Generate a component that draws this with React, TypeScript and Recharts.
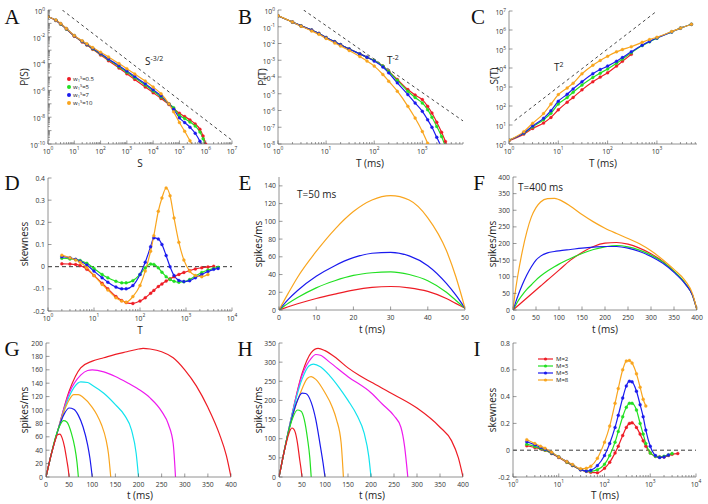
import React from 'react';
import { LineChart, Line, XAxis, YAxis, ReferenceLine } from 'recharts';

const RED = '#ee1c25';
const GREEN = '#22e022';
const BLUE = '#1a1aee';
const ORANGE = '#f9a51e';
const CYAN = '#12e3ee';
const MAGENTA = '#ee1aee';
const FONT = '"Open Sans", "DejaVu Sans", sans-serif';

// ---- A: P(S), log10 values
const aLogS = [0, 0.3, 0.48, 0.7, 1, 1.3, 1.48, 1.7, 2, 2.3, 2.7, 3, 3.3, 3.7, 4, 4.3, 4.6, 4.78, 5, 5.2, 5.4, 5.6, 5.78, 5.9, 6];
const aRedLogP = [-0.5, -0.78, -1.05, -1.42, -1.95, -2.38, -2.62, -2.93, -3.35, -3.78, -4.33, -4.76, -5.18, -5.74, -6.17, -6.6, -7.05, -7.35, -7.7, -7.95, -8.2, -8.5, -8.9, -9.4, -10];
const aGreenLogP = [-0.5, -0.77, -1.04, -1.41, -1.93, -2.35, -2.59, -2.89, -3.29, -3.7, -4.23, -4.64, -5.06, -5.6, -6.05, -6.5, -7.0, -7.3, -7.85, -8.1, -8.35, -8.65, -9.1, -9.6, -10.3];
const aBlueLogP = [-0.5, -0.76, -1.03, -1.4, -1.92, -2.33, -2.57, -2.86, -3.25, -3.65, -4.16, -4.56, -4.97, -5.5, -5.95, -6.4, -7.0, -7.4, -8.05, -8.4, -8.75, -9.2, -9.8, -10.3];
const aOrangeLogP = [-0.5, -0.75, -1.0, -1.38, -1.9, -2.3, -2.52, -2.8, -3.15, -3.5, -4.0, -4.38, -4.78, -5.3, -5.75, -6.25, -7.0, -7.6, -8.4, -9.05, -9.75, -10.45];
const aSlopeS = [3.5, 1e7];
const aSlopeP = [1, 1.9e-10];

// ---- B: P(T)
const bLogT = [0, 0.3, 0.48, 0.7, 0.85, 1, 1.18, 1.3, 1.48, 1.7, 1.85, 2, 2.18, 2.3, 2.48, 2.7, 2.85, 3, 3.11, 3.2, 3.3, 3.4, 3.48, 3.54];
const bRedLogP = [-0.35, -0.72, -0.95, -1.2, -1.4, -1.65, -1.9, -2.07, -2.33, -2.62, -2.82, -3.02, -3.35, -3.65, -4.15, -4.75, -5.08, -5.35, -5.75, -6.15, -6.7, -7.3, -7.85, -8.4];
const bGreenLogP = [-0.35, -0.72, -0.95, -1.2, -1.4, -1.65, -1.9, -2.07, -2.33, -2.62, -2.82, -3.02, -3.35, -3.67, -4.2, -4.85, -5.22, -5.55, -5.95, -6.4, -6.95, -7.55, -8.15];
const bBlueLogP = [-0.35, -0.72, -0.95, -1.2, -1.4, -1.65, -1.9, -2.07, -2.33, -2.62, -2.82, -3.04, -3.4, -3.75, -4.35, -5.05, -5.55, -6.05, -6.55, -7.0, -7.6, -8.2];
const bOrangeLogP = [-0.35, -0.72, -0.97, -1.25, -1.45, -1.7, -1.97, -2.15, -2.42, -2.78, -3.05, -3.35, -3.85, -4.25, -4.85, -5.75, -6.45, -7.25, -7.95, -8.5];
const bSlopeT = [3.4, 7000];
const bSlopeP = [1, 2.4e-7];

// ---- C: S(T)
const cLogT = [0, 0.3, 0.48, 0.7, 0.85, 1, 1.18, 1.3, 1.48, 1.7, 1.85, 2, 2.18, 2.3, 2.48, 2.7, 2.85, 3, 3.3, 3.48, 3.7];
const cRedLogS = [0.18, 0.52, 0.82, 1.1, 1.4, 1.8, 2.2, 2.45, 2.85, 3.28, 3.52, 3.75, 4.1, 4.35, 4.72];
const cGreenLogS = [0.2, 0.56, 0.9, 1.28, 1.62, 2.1, 2.45, 2.72, 3.1, 3.5, 3.73, 3.95, 4.25, 4.47, 4.8, 5.18, 5.38, 5.57, 5.9, 6.1, 6.3];
const cBlueLogS = [0.2, 0.58, 0.95, 1.35, 1.75, 2.25, 2.62, 2.9, 3.28, 3.7, 3.92, 4.1, 4.35, 4.55, 4.85, 5.2, 5.4, 5.58, 5.9, 6.1, 6.3];
const cOrangeLogS = [0.2, 0.65, 1.09, 1.6, 2.1, 2.6, 2.95, 3.2, 3.7, 4.15, 4.4, 4.62, 4.85, 4.97, 5.12, 5.35, 5.5, 5.62, 5.92, 6.1, 6.3];
const cSlopeT = [1.3, 1000];
const cSlopeS = [17, 1e7];

// ---- D: skewness vs T
const dT = [2, 3, 4, 5, 7, 10, 15, 20, 30, 40, 50, 70, 100, 130, 170, 200, 250, 300, 370, 450, 550, 700, 900, 1200, 1600, 2200, 3000, 4000, 5000];
const dRed = [0.013, 0.012, 0.01, 0.005, -0.012, -0.04, -0.075, -0.1, -0.135, -0.153, -0.162, -0.166, -0.155, -0.14, -0.12, -0.107, -0.09, -0.078, -0.065, -0.055, -0.045, -0.035, -0.026, -0.018, -0.01, -0.005, -0.001, 0.002];
const dGreen = [0.038, 0.035, 0.032, 0.028, 0.015, -0.008, -0.035, -0.05, -0.066, -0.073, -0.073, -0.063, -0.035, -0.005, 0.012, 0.01, -0.005, -0.025, -0.045, -0.058, -0.066, -0.07, -0.068, -0.058, -0.042, -0.026, -0.015, -0.008, -0.003];
const dBlue = [0.045, 0.04, 0.033, 0.025, 0.008, -0.02, -0.05, -0.07, -0.092, -0.1, -0.1, -0.085, -0.035, 0.02, 0.09, 0.13, 0.125, 0.1, 0.05, 0.0, -0.04, -0.062, -0.067, -0.063, -0.05, -0.035, -0.022, -0.012, -0.008];
const dOrange = [0.052, 0.04, 0.03, 0.02, -0.005, -0.04, -0.08, -0.105, -0.14, -0.155, -0.16, -0.135, -0.085, -0.02, 0.07, 0.14, 0.25, 0.31, 0.355, 0.32, 0.22, 0.11, 0.03, -0.02, -0.04, -0.045, -0.035];

// ---- E: T = 50 ms
const eT = [0, 2.5, 5, 10, 15, 20, 25, 30, 35, 40, 45, 47.5, 50];
const eRed = [0, 3.7, 7, 13, 18, 22.5, 25.5, 26.5, 25, 21, 13, 7.5, 2];
const eGreen = [0, 7.5, 14, 25, 33, 39, 42, 43, 40, 33, 20, 11, 2];
const eBlue = [0, 12, 22, 38, 50, 59, 64, 65, 61, 50, 30, 17, 2];
const eOrange = [0, 19, 37, 66, 91, 111, 124, 129, 124, 104, 67, 38, 2];

// ---- F: T = 400 ms
const fT = [0, 5, 10, 20, 30, 40, 50, 60, 75, 90, 100, 125, 150, 175, 200, 225, 250, 275, 300, 325, 350, 375, 390, 400];
const fRed = [0, 6, 12, 24, 36, 48, 60, 72, 90, 108, 120, 150, 173, 191, 201, 203, 198, 186, 169, 147, 116, 79, 45, 0];
const fGreen = [0, 12, 25, 45, 62, 76, 90, 102, 117, 130, 138, 155, 170, 182, 190, 194, 190, 180, 165, 145, 116, 79, 45, 0];
const fBlue = [0, 20, 40, 75, 105, 130, 150, 162, 172, 176, 178, 182, 186, 189, 191, 191, 186, 176, 161, 141, 113, 77, 45, 0];
const fOrange = [0, 55, 100, 175, 235, 280, 308, 325, 335, 336, 332, 312, 287, 265, 246, 230, 215, 199, 178, 152, 122, 87, 50, 0];

// ---- G
const g50T = [0, 5, 10, 15, 20, 25, 30, 35, 40, 45, 48, 50];
const g50 = [0, 15, 30, 43, 55, 63, 64, 58, 45, 25, 12, 0];
const g70T = [0, 10, 20, 30, 38, 45, 55, 62, 67, 70];
const g70 = [0, 30, 58, 77, 84, 82, 65, 45, 22, 0];
const g100T = [0, 10, 25, 40, 50, 60, 70, 80, 90, 95, 100];
const g100 = [0, 30, 68, 95, 103, 101, 92, 75, 48, 28, 0];
const g140T = [0, 10, 25, 40, 50, 60, 70, 80, 100, 110, 120, 130, 135, 140];
const g140 = [0, 30, 68, 100, 115, 123, 123, 119, 104, 93, 78, 55, 35, 0];
const g200T = [0, 10, 25, 50, 60, 75, 90, 100, 125, 150, 170, 185, 195, 200];
const g200 = [0, 30, 68, 120, 133, 142, 141, 137, 125, 108, 92, 70, 35, 0];
const g280T = [0, 10, 25, 50, 75, 90, 100, 125, 150, 175, 200, 225, 250, 265, 275, 280];
const g280 = [0, 30, 68, 125, 152, 159, 160, 157, 150, 141, 131, 118, 98, 78, 50, 0];
const g400T = [0, 10, 25, 50, 75, 100, 125, 150, 175, 200, 210, 225, 250, 275, 300, 325, 350, 375, 390, 400];
const g400 = [0, 30, 68, 128, 163, 173, 178, 183, 187, 191, 192, 191, 187, 178, 160, 136, 104, 64, 32, 0];

// ---- H
const h50T = [0, 5, 10, 15, 20, 25, 28, 32, 35, 40, 45, 48, 50];
const h50 = [0, 30, 60, 85, 108, 124, 128, 125, 118, 90, 45, 20, 0];
const h70T = [0, 10, 20, 30, 40, 48, 55, 62, 67, 70];
const h70 = [0, 60, 115, 155, 175, 172, 150, 100, 50, 0];
const h100T = [0, 10, 25, 40, 50, 58, 70, 80, 90, 96, 100];
const h100 = [0, 60, 140, 200, 219, 218, 195, 150, 80, 35, 0];
const h140T = [0, 10, 25, 50, 62, 70, 80, 100, 115, 125, 135, 140];
const h140 = [0, 60, 140, 230, 258, 262, 255, 220, 185, 150, 90, 0];
const h200T = [0, 10, 25, 50, 65, 75, 90, 110, 130, 150, 170, 185, 195, 200];
const h200 = [0, 60, 145, 255, 290, 295, 288, 265, 235, 200, 160, 115, 55, 0];
const h280T = [0, 10, 25, 50, 70, 80, 90, 110, 150, 200, 225, 250, 265, 273, 280];
const h280 = [0, 60, 145, 265, 310, 320, 318, 300, 262, 220, 190, 160, 130, 80, 0];
const h400T = [0, 10, 25, 50, 70, 85, 100, 125, 150, 175, 200, 250, 300, 350, 375, 390, 400];
const h400 = [0, 60, 145, 270, 325, 336, 330, 310, 285, 265, 248, 215, 180, 130, 95, 50, 0];

// ---- I: skewness vs T for M
const iT = [2, 3, 4, 5, 7, 10, 15, 20, 30, 40, 50, 70, 100, 130, 170, 200, 250, 300, 350, 400, 500, 600, 700, 800, 1000, 1300, 1600, 2000, 2500, 3000, 4000];
const iM2 = [0.033, 0.02, 0.01, 0, -0.025, -0.055, -0.09, -0.115, -0.145, -0.158, -0.165, -0.168, -0.135, -0.09, -0.02, 0.03, 0.11, 0.17, 0.2, 0.205, 0.17, 0.12, 0.07, 0.03, -0.02, -0.045, -0.05, -0.05, -0.04, -0.03, -0.025];
const iM3 = [0.045, 0.028, 0.013, 0.002, -0.022, -0.05, -0.088, -0.113, -0.145, -0.156, -0.157, -0.145, -0.105, -0.04, 0.06, 0.14, 0.25, 0.32, 0.35, 0.35, 0.3, 0.2, 0.12, 0.05, -0.02, -0.045, -0.05, -0.045, -0.035, -0.025];
const iM5 = [0.063, 0.04, 0.02, 0.008, -0.02, -0.05, -0.085, -0.11, -0.145, -0.155, -0.15, -0.115, -0.04, 0.05, 0.17, 0.26, 0.39, 0.48, 0.515, 0.51, 0.44, 0.34, 0.25, 0.15, 0.03, -0.04, -0.055, -0.05, -0.035];
const iM8 = [0.078, 0.05, 0.03, 0.015, -0.015, -0.05, -0.085, -0.106, -0.138, -0.135, -0.12, -0.06, 0.06, 0.18, 0.35, 0.46, 0.6, 0.665, 0.67, 0.65, 0.57, 0.47, 0.38, 0.33];
const iLabels = ['M=2', 'M=3', 'M=5', 'M=8'];
const aLabels = ['0.5', '5', '7', '10'];

const pts = (xs: number[], ys: number[]) => ys.map((y, i) => ({ x: xs[i], y }));
const logPts = (xs: number[], ys: number[]) => ys.map((y, i) => ({ x: Math.pow(10, xs[i]), y: Math.pow(10, y) }));

type AxisSpec = { domain: [number, number]; ticks: number[]; log?: boolean; every?: number };
type Series = { data: { x: number; y: number }[]; color: string; dots?: boolean; dash?: string; w?: number };

const minorTicks = (lo: number, hi: number, max: number) => {
  const out: number[] = [];
  for (let e = lo; e < hi; e++) for (let m = 2; m <= 9; m++) if (m * 10 ** e <= max) out.push(m * 10 ** e);
  return out;
};
const decades = (lo: number, hi: number) => {
  const out: number[] = [];
  for (let e = lo; e <= hi; e++) out.push(10 ** e);
  return out;
};

const TICK_COLOR = '#555';
const TICK_FS = 6.8;

function makeTick(side: 'bottom' | 'top' | 'left' | 'right', spec: AxisSpec) {
  return (props: any) => {
    const { x, y, payload } = props;
    const v: number = payload.value;
    let major = true;
    let exp = 0;
    if (spec.log) {
      const l = Math.log10(v);
      exp = Math.round(l);
      major = Math.abs(l - exp) < 1e-6;
    }
    const len = major ? 3.5 : 2;
    let line = null;
    if (side === 'bottom') line = <line x1={x} x2={x} y1={y} y2={y - len} />;
    if (side === 'top') line = <line x1={x} x2={x} y1={y} y2={y + len} />;
    if (side === 'left') line = <line x1={x} x2={x + len} y1={y} y2={y} />;
    if (side === 'right') line = <line x1={x} x2={x - len} y1={y} y2={y} />;
    let label = null;
    const show = (side === 'bottom' || side === 'left') && major && (!spec.every || exp % spec.every === 0);
    if (show) {
      const content = spec.log ? (
        <>
          10<tspan dy={-3.2} fontSize={4.9}>{exp}</tspan>
        </>
      ) : (
        String(v)
      );
      label =
        side === 'bottom' ? (
          <text x={x} y={y + 9.5} textAnchor="middle" fontSize={TICK_FS} fill="#333" fontFamily={FONT}>
            {content}
          </text>
        ) : (
          <text x={x - 3} y={y + (spec.log ? 3.8 : 2.5)} textAnchor="end" fontSize={TICK_FS} fill="#333" fontFamily={FONT}>
            {content}
          </text>
        );
    }
    return (
      <g>
        <g stroke={TICK_COLOR} strokeWidth={0.6}>{line}</g>
        {label}
      </g>
    );
  };
}

const YW = 36;
const XH = 16;
const MT = 8;
const MR = 10;

function Panel(props: { L: number; T: number; W: number; H: number; x: AxisSpec; y: AxisSpec; series: Series[]; zero?: boolean }) {
  const { L, T, W, H, x, y, series, zero } = props;
  const cw = W + YW + MR;
  const ch = H + MT + XH;
  const axisLine = { stroke: '#777', strokeWidth: 0.8 };
  const xs = x.log ? 'log' : 'linear';
  const ys = y.log ? 'log' : 'linear';
  return (
    <div style={{ position: 'absolute', left: L - YW, top: T - MT, width: cw, height: ch }}>
      <LineChart width={cw} height={ch} margin={{ top: MT, right: MR, bottom: 0, left: 0 }}>
        <XAxis xAxisId="b" orientation="bottom" type="number" dataKey="x" scale={xs} domain={x.domain} ticks={x.ticks}
          allowDataOverflow interval={0} tickLine={false} tickSize={0} tickMargin={0} axisLine={axisLine} height={XH} tick={makeTick('bottom', x)} />
        <XAxis xAxisId="t" orientation="top" type="number" dataKey="x" scale={xs} domain={x.domain} ticks={x.ticks}
          allowDataOverflow interval={0} tickLine={false} tickSize={0} tickMargin={0} axisLine={axisLine} height={0} tick={makeTick('top', x)} />
        <YAxis yAxisId="l" orientation="left" type="number" dataKey="y" scale={ys} domain={y.domain} ticks={y.ticks}
          allowDataOverflow interval={0} tickLine={false} tickSize={0} tickMargin={0} axisLine={axisLine} width={YW} tick={makeTick('left', y)} />
        <YAxis yAxisId="r" orientation="right" type="number" dataKey="y" scale={ys} domain={y.domain} ticks={y.ticks}
          allowDataOverflow interval={0} tickLine={false} tickSize={0} tickMargin={0} axisLine={axisLine} width={0} tick={makeTick('right', y)} />
        {zero && <ReferenceLine xAxisId="b" yAxisId="l" y={0} stroke="#222" strokeWidth={0.9} strokeDasharray="4 3" />}
        {series.map((s, i) => (
          <Line key={i} xAxisId="b" yAxisId="l" data={s.data} dataKey="y" type={s.dash ? 'linear' : 'monotone'}
            stroke={s.color} strokeWidth={s.w ?? 1.2} strokeDasharray={s.dash}
            dot={s.dots ? { r: 1.5, fill: s.color, stroke: s.color, strokeWidth: 0.3 } : false}
            activeDot={false} isAnimationActive={false} />
        ))}
      </LineChart>
    </div>
  );
}

const txt: React.CSSProperties = { position: 'absolute', fontFamily: FONT, color: '#222', whiteSpace: 'nowrap', lineHeight: 1 };

const Center = ({ x, y, children, rot, size = 10 }: { x: number; y: number; children: React.ReactNode; rot?: boolean; size?: number }) => (
  <div style={{ ...txt, left: x, top: y, fontSize: size, transform: `translate(-50%,-50%)${rot ? ' rotate(-90deg)' : ''}` }}>{children}</div>
);

const Letter = ({ x, y, c }: { x: number; y: number; c: string }) => (
  <div style={{ position: 'absolute', left: x, top: y, fontFamily: '"Liberation Serif", serif', fontSize: 21, lineHeight: 1, color: '#111', transform: 'translate(-50%,-50%)' }}>{c}</div>
);

const SPIKE_LIN_X: AxisSpec = { domain: [0, 400], ticks: [0, 50, 100, 150, 200, 250, 300, 350, 400] };

export default function App() {
  const dashK = '3 3';
  const aX: AxisSpec = { domain: [1, 1e7], ticks: [...decades(0, 7), ...minorTicks(0, 7, 1e7)], log: true };
  const aY: AxisSpec = { domain: [1e-10, 1], ticks: [...decades(-10, 0), ...minorTicks(-10, 0, 1)], log: true, every: 2 };
  const bX: AxisSpec = { domain: [1, 7000], ticks: [...decades(0, 3), ...minorTicks(0, 4, 7000)], log: true };
  const bY: AxisSpec = { domain: [1e-8, 1], ticks: decades(-8, 0), log: true };
  const cX: AxisSpec = { domain: [1, 6500], ticks: [...decades(0, 3), ...minorTicks(0, 4, 6500)], log: true };
  const cY: AxisSpec = { domain: [1, 1e7], ticks: decades(0, 7), log: true };
  const dX: AxisSpec = { domain: [1, 1e4], ticks: [...decades(0, 4), ...minorTicks(0, 4, 1e4)], log: true };
  const dY: AxisSpec = { domain: [-0.2, 0.4], ticks: [-0.2, -0.1, 0, 0.1, 0.2, 0.3, 0.4] };
  const eX: AxisSpec = { domain: [0, 50], ticks: [0, 10, 20, 30, 40, 50] };
  const eY: AxisSpec = { domain: [0, 150], ticks: [0, 20, 40, 60, 80, 100, 120, 140] };
  const fY: AxisSpec = { domain: [0, 400], ticks: [0, 50, 100, 150, 200, 250, 300, 350, 400] };
  const gY: AxisSpec = { domain: [0, 200], ticks: [0, 20, 40, 60, 80, 100, 120, 140, 160, 180, 200] };
  const hY: AxisSpec = { domain: [0, 350], ticks: [0, 50, 100, 150, 200, 250, 300, 350] };
  const iY: AxisSpec = { domain: [-0.2, 0.8], ticks: [-0.2, 0, 0.2, 0.4, 0.6, 0.8] };

  const quad = [RED, GREEN, BLUE, ORANGE];

  return (
    <div style={{ position: 'absolute', left: 0, top: 0, width: 708, height: 504, background: '#fff', overflow: 'hidden' }}>
      {/* Row 1 */}
      <Panel L={48} T={10} W={184} H={134} x={aX} y={aY} series={[
        { data: pts(aSlopeS, aSlopeP), color: '#333', dash: dashK, w: 0.9 },
        { data: logPts(aLogS, aRedLogP), color: RED, dots: true },
        { data: logPts(aLogS, aGreenLogP), color: GREEN, dots: true },
        { data: logPts(aLogS, aBlueLogP), color: BLUE, dots: true },
        { data: logPts(aLogS, aOrangeLogP), color: ORANGE, dots: true },
      ]} />
      <Panel L={278} T={10} W={185} H={134} x={bX} y={bY} series={[
        { data: pts(bSlopeT, bSlopeP), color: '#333', dash: dashK, w: 0.9 },
        { data: logPts(bLogT, bRedLogP), color: RED, dots: true },
        { data: logPts(bLogT, bGreenLogP), color: GREEN, dots: true },
        { data: logPts(bLogT, bBlueLogP), color: BLUE, dots: true },
        { data: logPts(bLogT, bOrangeLogP), color: ORANGE, dots: true },
      ]} />
      <Panel L={509} T={11} W={188} H={133} x={cX} y={cY} series={[
        { data: pts(cSlopeT, cSlopeS), color: '#333', dash: dashK, w: 0.9 },
        { data: logPts(cLogT, cRedLogS), color: RED, dots: true },
        { data: logPts(cLogT, cGreenLogS), color: GREEN, dots: true },
        { data: logPts(cLogT, cBlueLogS), color: BLUE, dots: true },
        { data: logPts(cLogT, cOrangeLogS), color: ORANGE, dots: true },
      ]} />

      {/* Row 2 */}
      <Panel L={48} T={178} W={184} H={133} x={dX} y={dY} zero series={[
        { data: pts(dT, dRed), color: RED, dots: true },
        { data: pts(dT, dGreen), color: GREEN, dots: true },
        { data: pts(dT, dBlue), color: BLUE, dots: true },
        { data: pts(dT, dOrange), color: ORANGE, dots: true },
      ]} />
      <Panel L={279} T={177} W={186} H={133} x={eX} y={eY} series={[
        { data: pts(eT, eRed), color: RED },
        { data: pts(eT, eGreen), color: GREEN },
        { data: pts(eT, eBlue), color: BLUE },
        { data: pts(eT, eOrange), color: ORANGE },
      ]} />
      <Panel L={513} T={177} W={184} H={133} x={SPIKE_LIN_X} y={fY} series={[
        { data: pts(fT, fRed), color: RED },
        { data: pts(fT, fGreen), color: GREEN },
        { data: pts(fT, fBlue), color: BLUE },
        { data: pts(fT, fOrange), color: ORANGE },
      ]} />

      {/* Row 3 */}
      <Panel L={46} T={343} W={185} H={134} x={SPIKE_LIN_X} y={gY} series={[
        { data: pts(g400T, g400), color: RED },
        { data: pts(g280T, g280), color: MAGENTA },
        { data: pts(g200T, g200), color: CYAN },
        { data: pts(g140T, g140), color: ORANGE },
        { data: pts(g100T, g100), color: BLUE },
        { data: pts(g70T, g70), color: GREEN },
        { data: pts(g50T, g50), color: RED },
      ]} />
      <Panel L={279} T={343} W={184} H={134} x={SPIKE_LIN_X} y={hY} series={[
        { data: pts(h400T, h400), color: RED },
        { data: pts(h280T, h280), color: MAGENTA },
        { data: pts(h200T, h200), color: CYAN },
        { data: pts(h140T, h140), color: ORANGE },
        { data: pts(h100T, h100), color: BLUE },
        { data: pts(h70T, h70), color: GREEN },
        { data: pts(h50T, h50), color: RED },
      ]} />
      <Panel L={513} T={343} W={183} H={134} x={dX} y={iY} zero series={[
        { data: pts(iT, iM2), color: RED, dots: true },
        { data: pts(iT, iM3), color: GREEN, dots: true },
        { data: pts(iT, iM5), color: BLUE, dots: true },
        { data: pts(iT, iM8), color: ORANGE, dots: true },
      ]} />

      {/* letters */}
      <Letter x={12} y={17} c="A" />
      <Letter x={245} y={17} c="B" />
      <Letter x={478} y={17} c="C" />
      <Letter x={12} y={183} c="D" />
      <Letter x={245} y={183} c="E" />
      <Letter x={479} y={183} c="F" />
      <Letter x={12} y={349} c="G" />
      <Letter x={245} y={349} c="H" />
      <Letter x={477} y={349} c="I" />

      {/* axis titles */}
      <Center x={24} y={77} rot>P(S)</Center>
      <Center x={140} y={163}>S</Center>
      <Center x={262} y={77} rot>P(T)</Center>
      <Center x={370} y={163}>T (ms)</Center>
      <Center x={494} y={76} rot>S(T)</Center>
      <Center x={603} y={163}>T (ms)</Center>
      <Center x={24} y={244} rot>skewness</Center>
      <Center x={140} y={330}>T</Center>
      <Center x={258} y={244} rot>spikes/ms</Center>
      <Center x={372} y={329}>t (ms)</Center>
      <Center x={492} y={244} rot>spikes/ms</Center>
      <Center x={605} y={329}>t (ms)</Center>
      <Center x={24} y={410} rot>spikes/ms</Center>
      <Center x={140} y={495}>t (ms)</Center>
      <Center x={258} y={410} rot>spikes/ms</Center>
      <Center x={372} y={495}>t (ms)</Center>
      <Center x={492} y={410} rot>skewness</Center>
      <Center x={605} y={495}>T (ms)</Center>

      {/* annotations */}
      <div style={{ ...txt, left: 145, top: 55, fontSize: 10 }}>S<sup style={{ fontSize: 7 }}>-3/2</sup></div>
      <div style={{ ...txt, left: 387, top: 54, fontSize: 10 }}>T<sup style={{ fontSize: 7 }}>-2</sup></div>
      <div style={{ ...txt, left: 554, top: 61, fontSize: 10 }}>T<sup style={{ fontSize: 7 }}>2</sup></div>
      <div style={{ ...txt, left: 297, top: 189, fontSize: 10 }}>T=50 ms</div>
      <div style={{ ...txt, left: 518, top: 182, fontSize: 10 }}>T=400 ms</div>

      {/* legend A */}
      <svg style={{ position: 'absolute', left: 64, top: 74 }} width={46} height={36}>
        {aLabels.map((l, i) => (
          <g key={l}>
            <circle cx={5} cy={5 + i * 8} r={2} fill={quad[i]} />
            <text x={9} y={7.2 + i * 8} fontSize={6} fontFamily={FONT} fill="#222">
              w<tspan dy={1} fontSize={4}>1</tspan><tspan dy={-3} fontSize={4}>S</tspan><tspan dy={2} fontSize={6}>={l}</tspan>
            </text>
          </g>
        ))}
      </svg>

      {/* legend I */}
      <svg style={{ position: 'absolute', left: 538, top: 355 }} width={40} height={30}>
        {iLabels.map((l, i) => (
          <g key={l}>
            <line x1={0} x2={15} y1={4 + i * 7} y2={4 + i * 7} stroke={quad[i]} strokeWidth={1.2} />
            <circle cx={7.5} cy={4 + i * 7} r={1.6} fill={quad[i]} />
            <text x={18} y={6.2 + i * 7} fontSize={6} fontFamily={FONT} fill="#222">{l}</text>
          </g>
        ))}
      </svg>
    </div>
  );
}
